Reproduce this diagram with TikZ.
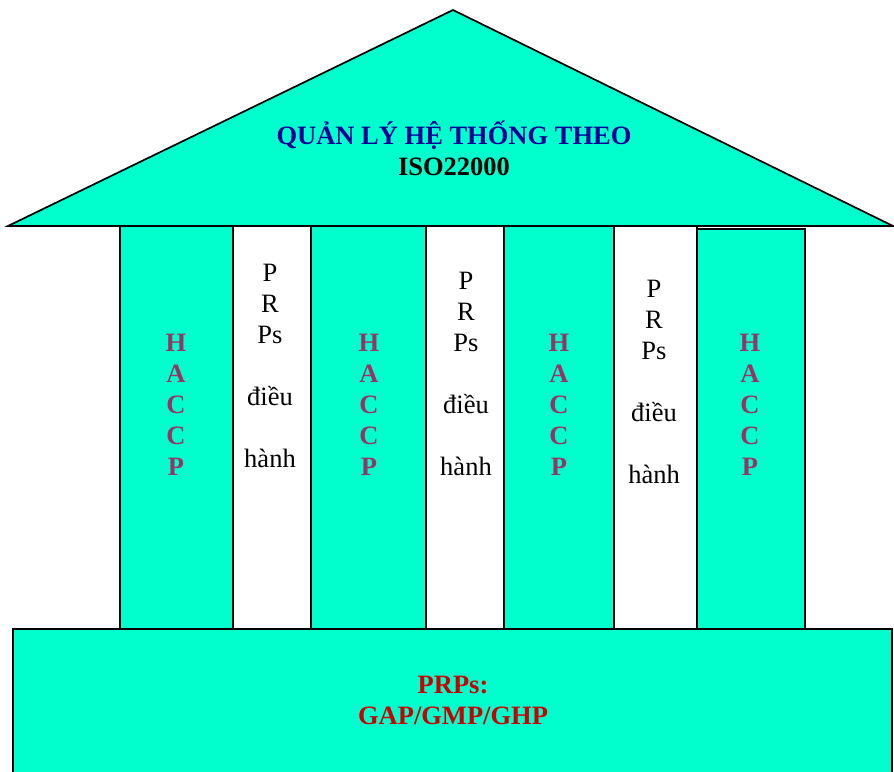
\documentclass[tikz,border=0pt]{standalone}
\usepackage{fontspec}
\setmainfont{Liberation Serif}
\usepackage{xcolor}
\usetikzlibrary{positioning}

\definecolor{templecyan}{RGB}{0,255,204}
\definecolor{haccppink}{RGB}{153,51,102}
\definecolor{titlenavy}{RGB}{0,0,153}
\definecolor{prpred}{RGB}{204,0,0}

\begin{document}
\begin{tikzpicture}[x=1pt, y=-1pt,
    haccp/.style={draw, fill=templecyan, line width=1.7pt, outer sep=0pt,
        minimum height=403pt, inner sep=0pt},
    prps/.style={draw, fill=white, line width=1.7pt, outer sep=0pt,
        minimum height=403pt, inner sep=0pt},
    block/.style={draw, fill=templecyan, line width=1.7pt},
    haccptext/.style={align=center, text=haccppink,
        font=\fontsize{26.5}{31}\selectfont\bfseries},
    prptext/.style={align=center, font=\fontsize{26.5}{31}\selectfont}]
    \useasboundingbox (0,0) rectangle (894,771);

    % pillars
    \node[haccp, minimum width=113pt, anchor=north west] (h1) at (120,226) {};
    \node[prps, minimum width=78pt, right=0pt of h1] (p1) {};
    \node[haccp, minimum width=115pt, right=0pt of p1] (h2) {};
    \node[prps, minimum width=78pt, right=0pt of h2] (p2) {};
    \node[haccp, minimum width=110pt, right=0pt of p2] (h3) {};
    \node[prps, minimum width=83pt, right=0pt of h3] (p3) {};
    \node[haccp, minimum width=108pt, minimum height=400pt,
        anchor=north west] (h4) at (p3.north east |- 0,229) {};

    \foreach \x/\name in {176/t1, 369/t2, 559/t3, 750/t4}
        \node[haccptext] (\name) at (\x,405) {H\\A\\C\\C\\P};
    \foreach \x/\y/\name in {270/366/q1, 466/374/q2, 654/382/q3}
        \node[prptext] (\name) at (\x,\y) {P\\R\\Ps\\[31pt]điều\\[31pt]hành};

    % roof
    \coordinate (eaveL) at (8,226);
    \coordinate (apex) at (453,10);
    \coordinate (eaveR) at (893,226);
    \draw[block, line join=miter] (eaveL) -- (apex) -- (eaveR) -- cycle;
    \node[align=center, font=\fontsize{26.5}{31}\selectfont\bfseries]
        (roof) at (454,148) {\textcolor{titlenavy}{QUẢN LÝ HỆ THỐNG THEO}\\ISO22000};

    % base
    \coordinate (baseNW) at (13,629);
    \coordinate (baseSE) at (892,790);
    \draw[block] (baseNW) rectangle (baseSE);
    \node[align=center, text=prpred, font=\fontsize{26.5}{31}\selectfont\bfseries]
        (base) at (453,700) {PRPs:\\GAP/GMP/GHP};
\end{tikzpicture}
\end{document}
